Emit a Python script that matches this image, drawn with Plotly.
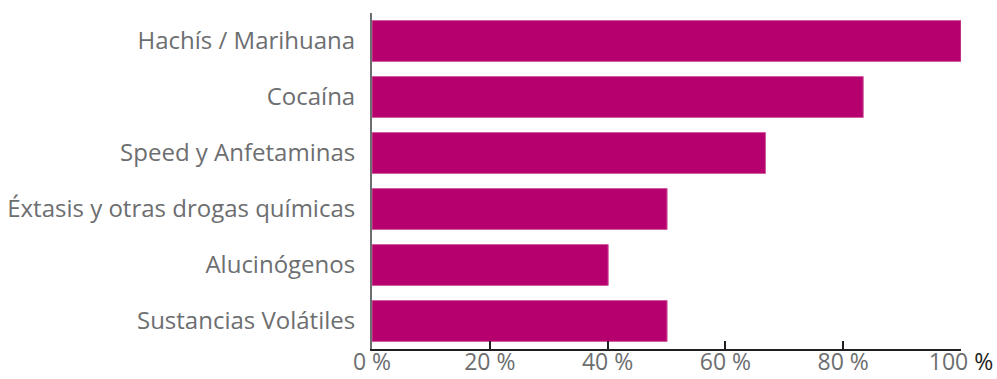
import plotly.graph_objects as go

categories = ["Hachís / Marihuana", "Cocaína", "Speed y Anfetaminas",
              "Éxtasis y otras drogas químicas", "Alucinógenos", "Sustancias Volátiles"]
values = [100, 83.4, 66.8, 50.1, 40.1, 50.1]
tick_vals = [0, 20, 40, 60, 80, 100]
tick_text = ["0 %", "20 %", "40 %", "60 %", "80 %", "100 <span style='color:#231f20'>%</span>"]

fig = go.Figure(go.Bar(
    x=values, y=categories, orientation="h",
    marker=dict(color="#b5006e", line=dict(color="#d35a9e", width=1)),
    width=0.73,
))

fig.update_layout(
    width=997, height=379,
    margin=dict(l=372, r=36, t=13, b=30),
    plot_bgcolor="white", paper_bgcolor="white",
    showlegend=False,
    font=dict(family="Open Sans", size=24, color="#6d6e70"),
)
fig.update_xaxes(
    range=[0, 100], tickvals=tick_vals, ticktext=tick_text,
    showgrid=False, zeroline=False, automargin=False,
    showline=True, linecolor="#231f20", linewidth=2,
    ticks="inside", ticklen=8, tickwidth=2, tickcolor="#231f20",
    ticklabelstandoff=-9,
    tickfont=dict(size=23, color="#6d6e70"),
)
fig.update_yaxes(
    autorange="reversed", showgrid=False, zeroline=False, automargin=False,
    showline=True, linecolor="#6d6e70", linewidth=2,
    ticks="", ticklabelstandoff=10,
    tickfont=dict(size=24, color="#6d6e70"),
)

fig.write_html("out.html", config={"displayModeBar": False},
               post_script="document.body.style.margin='0';document.body.style.overflow='hidden';")
